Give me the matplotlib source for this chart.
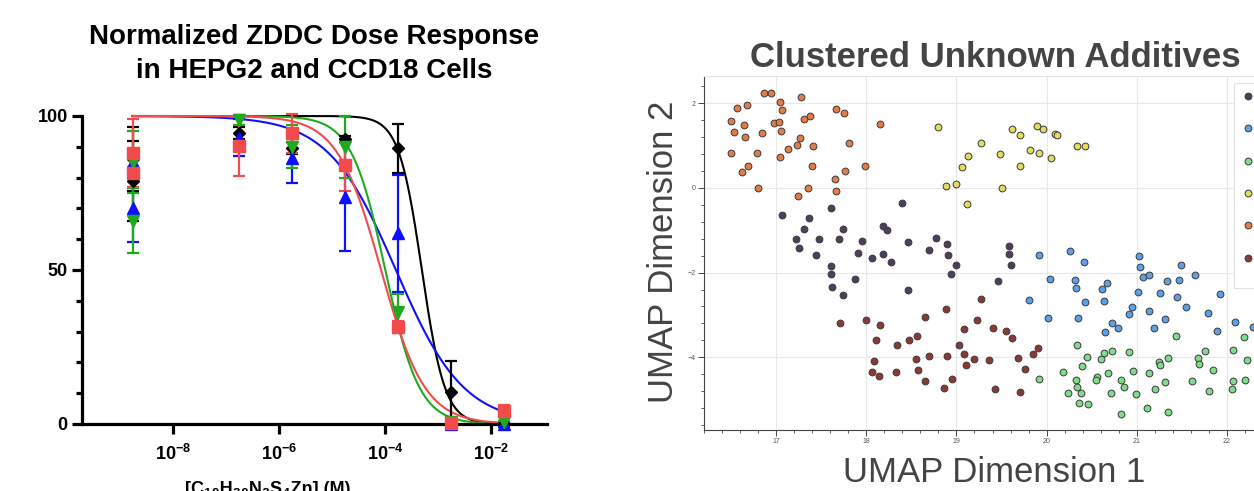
import numpy as np
import matplotlib
matplotlib.use("Agg")
import matplotlib.pyplot as plt
from matplotlib.ticker import FixedLocator, MultipleLocator, NullLocator, NullFormatter
from matplotlib.patches import Rectangle

plt.rcParams['font.family'] = ['Liberation Sans', 'DejaVu Sans']
plt.rcParams['mathtext.fontset'] = 'custom'
plt.rcParams['mathtext.rm'] = 'Liberation Sans'
plt.rcParams['mathtext.bf'] = 'Liberation Sans:bold'

W, H = 1254, 491

# ---- left panel: dose response (means +/- SD, first dose has two entries) ----
dose_x = [1.7e-9, 1.7e-9, 1.7e-7, 1.7e-6, 1.7e-5, 1.7e-4, 1.7e-3, 1.7e-2]

black_y = [86, 79, 94.4, 89.7, 92.5, 89.5, 10.5, 0]
black_err = [10.5, 13, 2, 2, 1, 7.9, 9.8, 0.5]
blue_y = [85, 70, 93, 86.3, 73.8, 62, 0, 0]
blue_err = [2, 11, 6, 8.2, 17.6, 19, 1, 1]
green_y = [85, 66, 98.7, 90, 90, 36.5, 0.5, 0.5]
green_err = [10, 10.5, 1.5, 7, 10, 5.7, 1, 0.5]
red_y = [88, 81.4, 90.4, 94.4, 84, 31.5, 0.2, 4.3]
red_err = [11, 2, 10, 6.3, 8.5, 2, 0.5, 2]

# fitted curves: log10(IC50) and Hill slope, top 100 / bottom 0
log_ic50 = {'black': -3.31, 'blue': -3.8, 'green': -4.0, 'red': -4.08}
hill = {'black': 2.0, 'blue': 0.68, 'green': 1.35, 'red': 1.05}

x_tick_pows = [-8, -6, -4, -2]

# ---- right panel: UMAP clusters ----
purple_x = [17.06, 17.37, 17.31, 17.61, 17.22, 17.25, 17.48, 17.44, 17.61, 17.70, 17.74, 17.95, 17.91, 18.06,
            18.19, 18.23, 18.19, 18.27, 18.40, 18.46, 18.69, 18.77, 18.89, 18.91, 19.00, 17.61, 17.62, 17.87,
            17.74, 18.94, 18.46, 19.46, 19.58, 19.58, 19.60]
purple_y = [-0.65, -0.70, -0.96, -0.47, -1.20, -1.41, -1.21, -1.59, -1.84, -1.21, -0.96, -1.26, -1.54, -1.65,
            -0.91, -0.99, -1.57, -1.75, -0.35, -1.28, -1.46, -1.18, -1.32, -1.58, -1.82, -2.04, -2.35, -2.16,
            -2.53, -2.04, -2.41, -2.20, -1.38, -1.57, -1.82]
blue_ux = [19.92, 20.26, 20.42, 21.03, 21.04, 21.49, 20.04, 20.32, 20.33, 20.67, 20.61, 21.07, 21.13, 21.33,
           21.47, 21.65, 21.01, 21.26, 21.45, 21.92, 19.81, 20.43, 20.64, 20.95, 20.91, 21.14, 21.55, 21.79,
           20.02, 20.35, 20.72, 20.79, 20.65, 21.19, 21.31, 21.89, 22.09, 22.29]
blue_uy = [-1.58, -1.48, -1.74, -1.62, -1.88, -1.82, -2.15, -2.18, -2.36, -2.24, -2.39, -2.10, -2.06, -2.21,
           -2.17, -2.06, -2.47, -2.49, -2.58, -2.50, -2.65, -2.70, -2.67, -2.81, -2.99, -2.91, -2.81, -2.96,
           -3.08, -3.08, -3.20, -3.30, -3.40, -3.31, -3.10, -3.39, -3.16, -3.28]
green_ux = [20.34, 20.45, 20.60, 20.64, 20.73, 20.91, 21.44, 21.35, 21.25, 21.26, 21.68, 21.76, 21.69, 22.07,
            22.19, 22.22, 19.92, 20.18, 20.39, 20.33, 20.56, 20.55, 20.68, 20.82, 20.96, 21.13, 20.34, 20.24,
            20.38, 20.36, 20.46, 20.71, 20.86, 20.99, 21.20, 21.31, 21.61, 21.84, 21.80, 22.07, 22.06, 22.20,
            20.83, 21.11, 21.35]
green_uy = [-3.70, -4.00, -4.04, -3.89, -3.86, -3.88, -3.51, -4.02, -4.11, -4.18, -4.01, -3.85, -4.16, -3.83,
            -3.53, -4.06, -4.52, -4.34, -4.21, -4.54, -4.47, -4.53, -4.38, -4.53, -4.32, -4.38, -4.70, -4.84,
            -4.85, -5.09, -5.11, -4.85, -4.71, -4.86, -4.75, -4.59, -4.57, -4.30, -4.81, -4.56, -4.75, -4.54,
            -5.35, -5.21, -5.29]
yellow_x = [18.80, 18.88, 19.00, 19.06, 19.13, 19.12, 19.27, 19.48, 19.50, 19.62, 19.70, 19.89, 19.96, 20.09,
            20.11, 19.82, 19.92, 19.71, 20.05, 20.34, 20.43]
yellow_y = [1.43, 0.04, 0.10, 0.49, 0.76, -0.37, 1.07, 0.80, 0.00, 1.39, 1.26, 1.47, 1.39, 1.27,
            1.26, 0.89, 0.83, 0.52, 0.71, 0.99, 0.98]
orange_x = [16.50, 16.53, 16.57, 16.68, 16.64, 16.65, 16.50, 16.62, 16.69, 16.80, 16.79, 16.84, 16.87, 16.94,
            17.04, 17.07, 16.98, 17.03, 17.05, 17.04, 17.13, 17.23, 17.27, 17.28, 17.31, 17.38, 17.41, 17.40,
            17.24, 17.35, 17.66, 17.75, 17.81, 17.76, 17.65, 17.66, 17.99, 18.15]
orange_y = [1.57, 1.32, 1.90, 1.97, 1.49, 1.21, 0.82, 0.38, 0.53, -0.01, 0.82, 1.29, 2.25, 2.25,
            2.03, 1.84, 1.53, 1.55, 1.35, 0.73, 0.92, 1.01, 1.17, 2.15, 1.62, 1.70, 1.00, 0.51,
            -0.20, -0.01, 1.87, 1.76, 1.07, 0.39, 0.22, -0.08, 0.51, 1.50]
darkred_x = [17.71, 18.00, 18.15, 18.11, 18.09, 18.06, 18.14, 18.34, 18.33, 18.47, 18.56, 18.55, 18.57, 18.65,
             18.69, 18.65, 18.88, 18.89, 18.86, 18.95, 19.03, 19.08, 19.08, 19.11, 19.20, 19.23, 19.27, 19.36,
             19.41, 19.43, 19.55, 19.62, 19.90, 19.85, 19.68, 19.76, 19.71]
darkred_y = [-3.20, -3.13, -3.25, -3.59, -4.08, -4.34, -4.45, -3.71, -4.35, -3.59, -3.50, -4.05, -4.30, -3.04,
             -3.96, -4.57, -2.85, -3.97, -4.73, -4.51, -3.70, -3.34, -3.92, -4.19, -4.04, -3.12, -2.62, -4.07,
             -3.32, -4.74, -3.37, -3.55, -3.78, -3.92, -4.02, -4.28, -4.83]


def px_box(l, t, r, b):
    return [l / W, 1 - b / H, (r - l) / W, (b - t) / H]


fig = plt.figure(figsize=(W / 100, H / 100), dpi=100)
fig.patch.set_facecolor('white')

# ================= left panel =================
ax = fig.add_axes(px_box(82.3, 116, 546.7, 424))
ax.set_xscale('log')
ax.set_xlim(10 ** -9.717, 10 ** -0.955)
ax.set_ylim(0, 100)

series = [
    ('black', '#000000', 'D', 6.5, black_y, black_err),
    ('blue', '#1010ff', '^', 8.5, blue_y, blue_err),
    ('green', '#1eaa1e', 'v', 8.5, green_y, green_err),
    ('red', '#f24b4b', 's', 9, red_y, red_err),
]
xs = np.logspace(np.log10(dose_x[0]), np.log10(dose_x[-1]), 400)
for key, col, mk, ms, ys, es in series:
    fit = 100 / (1 + 10 ** ((np.log10(xs) - log_ic50[key]) * hill[key]))
    ax.plot(xs, fit, color=col, lw=1.5, zorder=2, clip_on=False)
for key, col, mk, ms, ys, es in series:
    ax.errorbar(dose_x, ys, yerr=es, fmt=mk, color=col, ms=ms, mec=col, elinewidth=1.6,
                capsize=4.3, capthick=1.6, zorder=3, clip_on=False)

for s in ['top', 'right']:
    ax.spines[s].set_visible(False)
for s in ['left', 'bottom']:
    ax.spines[s].set_linewidth(2.3)
ax.yaxis.set_major_locator(FixedLocator([0, 50, 100]))
ax.yaxis.set_minor_locator(MultipleLocator(10))
ax.xaxis.set_major_locator(FixedLocator([10.0 ** p for p in x_tick_pows]))
ax.xaxis.set_minor_locator(NullLocator())
ax.xaxis.set_minor_formatter(NullFormatter())
ax.set_xticklabels([r'$\mathbf{10^{%d}}$' % p for p in x_tick_pows])
ax.tick_params(axis='both', which='major', length=7.5, width=2.3, labelsize=13, pad=3)
ax.tick_params(axis='y', which='minor', length=4.5, width=2.3)
ax.tick_params(axis='x', which='major', pad=7)
for t in ax.get_yticklabels():
    t.set_fontweight('bold')

fig.text(314 / W, 1 - 54 / H, 'Normalized ZDDC Dose Response\nin HEPG2 and CCD18 Cells',
         ha='center', va='center', fontsize=20, fontweight='bold', linespacing=1.35)
fig.text(268 / W, 1 - 481 / H, '[C₁₀H₂₀N₂S₄Zn] (M)', ha='center', va='top',
         fontsize=13, fontweight='bold')

# ================= right panel =================
bx = fig.add_axes(px_box(704, 76, 1254, 430))
bx.set_xlim(16.20, 22.30)
bx.set_ylim(-5.72, 2.645)

clusters = [
    (purple_x, purple_y, '#4f3e5d'),
    (blue_ux, blue_uy, '#5da0ea'),
    (green_ux, green_uy, '#7fdc8a'),
    (yellow_x, yellow_y, '#e4dc62'),
    (orange_x, orange_y, '#e67b46'),
    (darkred_x, darkred_y, '#8a3a35'),
]
handles = []
for cx, cy, col in clusters:
    h = bx.scatter(cx, cy, s=24, c=col, edgecolors='#3a3a3a', linewidths=0.7, zorder=3)
    handles.append(h)

bx.grid(True, color='#e8e8e8', lw=0.8, zorder=0)
bx.set_axisbelow(True)
bx.xaxis.set_major_locator(MultipleLocator(1))
bx.xaxis.set_minor_locator(MultipleLocator(0.2))
bx.yaxis.set_major_locator(MultipleLocator(2))
bx.yaxis.set_minor_locator(MultipleLocator(0.4))
for s in ['left', 'bottom']:
    bx.spines[s].set_color('#444444')
    bx.spines[s].set_linewidth(0.8)
bx.spines['top'].set_color('#e5e5e5')
bx.spines['right'].set_visible(False)
bx.tick_params(axis='both', which='major', length=4, width=0.7, color='#444444',
               labelsize=5, labelcolor='#555555', pad=2)
bx.tick_params(axis='both', which='minor', length=2, width=0.6, color='#444444')

# legend box runs past the right edge of the picture; its labels are not visible there
bx.add_patch(Rectangle(((1234 - 704) / 550, (430 - 288) / 354), 0.3, 205 / 354,
                       transform=bx.transAxes, facecolor='white', edgecolor='#e2e2e2',
                       lw=0.8, clip_on=False, zorder=4))
leg = bx.legend(handles=handles, labels=[''] * len(handles), loc='upper left',
                bbox_to_anchor=((1242.1 - 704) / 550, (430 - 91.5) / 354),
                borderaxespad=0, borderpad=0, frameon=False, fontsize=8, handlelength=1.0,
                handletextpad=2.5, labelspacing=2.02, scatterpoints=1, scatteryoffsets=[0.5])
leg.set_zorder(5)

fig.text(995 / W, 1 - 66.7 / H, 'Clustered Unknown Additives', ha='center', va='baseline',
         fontsize=25, fontweight='bold', color='#444444')
fig.text(994 / W, 1 - 481.7 / H, 'UMAP Dimension 1', ha='center', va='baseline',
         fontsize=25, color='#444444')
fig.text(663.5 / W, 1 - 251.5 / H, 'UMAP Dimension 2', ha='center', va='center',
         rotation=90, fontsize=25, color='#444444')

fig.savefig('out.png', dpi=100, facecolor='white')
